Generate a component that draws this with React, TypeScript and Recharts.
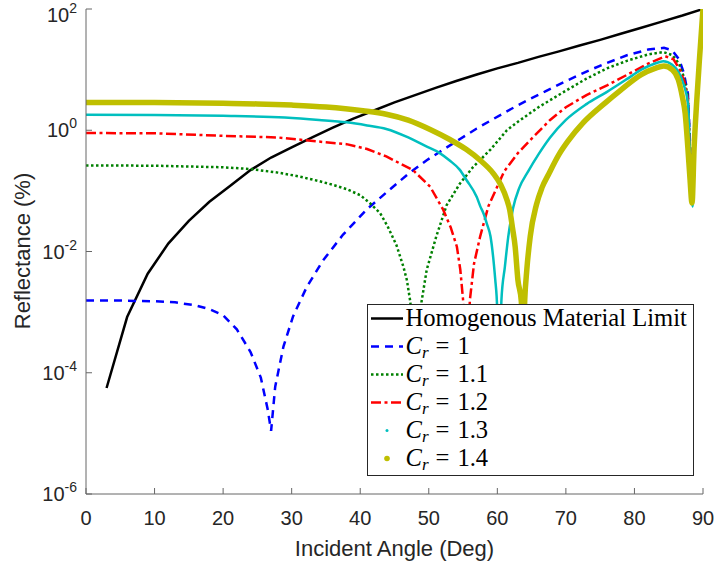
import { LineChart, Line, XAxis, YAxis, Legend } from "recharts";

// Homogenous material limit (reflectance in %)
const homogAngle = [3, 6, 9, 12, 15, 18, 21, 24, 27, 30, 33, 36, 39, 42, 45, 48, 51, 54, 57, 60, 63, 66, 69, 72, 75, 78, 81, 84, 87, 90];
const homogR = [0.000056, 0.00083, 0.0043, 0.0135, 0.032, 0.066, 0.12, 0.22, 0.355, 0.52, 0.76, 1.1, 1.56, 2.12, 2.88, 3.8, 5.0, 6.5, 8.3, 10.5, 12.9, 16.2, 20, 25, 31, 39, 49, 62, 78, 100];

// C_r = 1
const cr10Angle = [0, 5, 10, 13, 16, 18, 20, 22, 24, 25.5, 26.5, 27, 27.6, 28.8, 30.2, 32.2, 34.6, 37.5, 41, 44.3, 47, 49.7, 52, 54.5, 57, 59.5, 62, 64.5, 67, 70, 73, 76, 79, 82, 84.3, 85.5, 86.5, 87.2, 87.8, 88.1, 88.3, 88.5, 88.7, 89.1, 89.5, 90];
const cr10R = [0.00155, 0.00155, 0.00151, 0.00145, 0.00129, 0.00112, 0.00089, 0.00052, 0.00022, 0.000083, 0.000025, 0.000011, 0.000059, 0.00027, 0.00085, 0.0026, 0.0072, 0.019, 0.05, 0.105, 0.19, 0.32, 0.47, 0.71, 1.07, 1.55, 2.24, 3.16, 4.37, 6.46, 9.3, 12.9, 17.4, 21.4, 22.9, 20.9, 14.8, 8.9, 4.0, 0.63, 0.2, 0.07, 0.5, 3.2, 15.8, 100];

// C_r = 1.1
const cr11Angle = [0, 10, 20, 24, 28, 31, 34, 36, 38, 40, 41.4, 42.9, 44, 45.3, 46.3, 46.8, 47.3, 47.8, 48.2, 48.6, 48.95, 49.7, 51.1, 52.6, 54.5, 56.5, 59, 61.4, 63, 66, 70, 73, 76, 79, 82, 84.2, 85.5, 86.5, 87.2, 87.8, 88.1, 88.3, 88.5, 88.7, 89.1, 89.5, 90];
const cr11R = [0.263, 0.26, 0.245, 0.229, 0.2, 0.174, 0.145, 0.126, 0.107, 0.085, 0.063, 0.043, 0.026, 0.0126, 0.0056, 0.0034, 0.0015, 0.00032, 0.000063, 0.00032, 0.0015, 0.005, 0.0178, 0.058, 0.13, 0.25, 0.48, 1.0, 1.38, 2.4, 4.5, 7.1, 10.5, 14.1, 17.8, 19.5, 17.4, 12.6, 7.6, 3.5, 0.5, 0.16, 0.063, 0.5, 3.2, 15.8, 100];

// C_r = 1.2
const cr12Angle = [0, 10, 20, 28, 34, 38, 41, 43.8, 47.7, 50.2, 52.1, 53.2, 54.1, 54.6, 55, 55.3, 55.5, 55.7, 56, 56.6, 57.5, 58.7, 61, 63, 64.8, 67.7, 70, 73, 76, 79, 82, 84.5, 85.7, 86.6, 87.3, 87.8, 88.1, 88.3, 88.5, 88.7, 89.1, 89.5, 90];
const cr12R = [0.9, 0.89, 0.81, 0.76, 0.65, 0.59, 0.49, 0.37, 0.22, 0.117, 0.049, 0.025, 0.012, 0.005, 0.0016, 0.00032, 0.00005, 0.00032, 0.0016, 0.0063, 0.0178, 0.056, 0.21, 0.42, 0.69, 1.48, 2.4, 3.8, 5.5, 8.3, 12.6, 16.6, 14.8, 10, 6.3, 3.2, 0.5, 0.16, 0.063, 0.5, 3.2, 15.8, 100];

// C_r = 1.3
const cr13Angle = [0, 10, 20, 29, 34, 38, 41, 43.8, 47, 49.5, 51.6, 53, 54.5, 55.5, 57, 57.5, 58, 58.5, 59, 59.4, 59.7, 59.9, 60.1, 60.3, 60.5, 60.6, 61.1, 61.6, 62.3, 63.2, 64.5, 66, 67.7, 70, 73, 76, 79, 81, 83, 84.2, 85.5, 86.5, 87.2, 87.8, 88.1, 88.3, 88.5, 88.7, 89.1, 89.5, 90];
const cr13R = [1.8, 1.78, 1.73, 1.62, 1.48, 1.35, 1.2, 1.05, 0.76, 0.55, 0.42, 0.32, 0.224, 0.151, 0.079, 0.056, 0.042, 0.028, 0.0178, 0.0079, 0.0034, 0.0018, 0.0005, 0.0001, 0.00063, 0.0016, 0.0056, 0.0178, 0.052, 0.112, 0.21, 0.4, 0.76, 1.48, 2.7, 4.3, 7.1, 10, 12.6, 13.8, 12, 8.9, 5.6, 2.8, 0.4, 0.13, 0.055, 0.5, 3.2, 15.8, 100];

// C_r = 1.4
const cr14Angle = [0, 10, 20, 25, 30, 35, 40.4, 43.8, 47, 50.2, 53, 55.5, 57.5, 59.4, 60.5, 61.4, 61.8, 62.2, 62.6, 63, 63.5, 63.75, 64, 64.3, 64.8, 65.7, 66.5, 67.5, 69, 70.3, 72.5, 75.7, 78, 81, 83, 84.3, 85.5, 86.4, 87, 87.4, 87.8, 88.1, 88.4, 88.7, 89.1, 89.5, 90];
const cr14R = [2.88, 2.86, 2.78, 2.72, 2.6, 2.42, 2.1, 1.84, 1.47, 1.03, 0.71, 0.48, 0.32, 0.195, 0.126, 0.071, 0.049, 0.025, 0.012, 0.0034, 0.0015, 0.0002, 0.0016, 0.005, 0.0178, 0.059, 0.112, 0.19, 0.4, 0.66, 1.32, 2.8, 4.6, 8.3, 10.5, 11.5, 10, 6.8, 3.5, 1.9, 0.5, 0.16, 0.063, 0.5, 3.2, 15.8, 100];

const seriesNames = ["Homogenous Material Limit", "1", "1.1", "1.2", "1.3", "1.4"];
const seriesColors = ["#000000", "#0000ff", "#008000", "#ff0000", "#00bfbf", "#bfbf00"];

const xTicks = [0, 10, 20, 30, 40, 50, 60, 70, 80, 90];
const yTicks = [1e-6, 1e-4, 1e-2, 1, 100];

const toPoints = (angles: number[], values: number[]) =>
  angles.map((a, i) => ({ angle: a, r: values[i] }));

const series = [
  { data: toPoints(homogAngle, homogR), width: 2.5, dash: undefined as string | undefined, curve: "linear" },
  { data: toPoints(cr10Angle, cr10R), width: 2.5, dash: "8 6", curve: "linear" },
  { data: toPoints(cr11Angle, cr11R), width: 2.5, dash: "2.5 2.5", curve: "linear" },
  { data: toPoints(cr12Angle, cr12R), width: 2.5, dash: "10 3.5 3 3.5", curve: "linear" },
  { data: toPoints(cr13Angle, cr13R), width: 2.5, dash: undefined, curve: "monotone" },
  { data: toPoints(cr14Angle, cr14R), width: 5.5, dash: undefined, curve: "monotone" },
];

const AXIS = "#666666";
const TEXT = "#262626";
const SANS = "'Liberation Sans', Arial, sans-serif";

const XTick = (props: any) => {
  const { x, y, payload } = props;
  return (
    <text x={x} y={y} textAnchor="middle" fill={TEXT} fontFamily={SANS} fontSize={20}>
      {payload.value}
    </text>
  );
};

const YTick = (props: any) => {
  const { x, y, payload } = props;
  const exp = Math.round(Math.log10(payload.value));
  // the top label sits against the page edge, nudge it in a little
  const shift = exp === 2 ? 6 : 0;
  return (
    <text x={x} y={y + 7 + shift} textAnchor="end" fill={TEXT} fontFamily={SANS} fontSize={20}>
      10
      <tspan dy={-9} fontSize={14}>
        {exp}
      </tspan>
    </text>
  );
};

const NoTick = () => <g />;

const LegendSample = ({ i }: { i: number }) => {
  const c = seriesColors[i];
  return (
    <svg width={38} height={28} style={{ position: "absolute", left: 0, top: 0 }}>
      {i < 4 ? (
        <line x1={3} x2={35} y1={14.5} y2={14.5} stroke={c} strokeWidth={2.5} strokeDasharray={series[i].dash} />
      ) : (
        <circle cx={19} cy={14.5} r={i === 4 ? 1.5 : 2.8} fill={c} />
      )}
    </svg>
  );
};

const LegendBox = () => (
  <div
    style={{
      width: 327,
      height: 172,
      boxSizing: "border-box",
      border: "1px solid #262626",
      background: "#fff",
      fontFamily: "'Liberation Serif', 'Times New Roman', serif",
      fontSize: 24.6,
      color: "#000",
      overflow: "hidden",
    }}
  >
    <div style={{ marginTop: -1.5 }}>
      {seriesNames.map((name, i) => (
        <div key={i} style={{ position: "relative", height: 28.2, lineHeight: "28px", whiteSpace: "nowrap" }}>
          <LegendSample i={i} />
          <span style={{ paddingLeft: 37.5 }}>
            {i === 0 ? (
              name
            ) : (
              <>
                <i>C</i>
                <i style={{ fontSize: 17, position: "relative", top: 4 }}>r</i>
                <span style={{ margin: "0 8px 0 7px" }}>=</span>
                {name}
              </>
            )}
          </span>
        </div>
      ))}
    </div>
  </div>
);

export default function App() {
  return (
    <div style={{ position: "absolute", left: 0, top: 0, width: 715, height: 564, background: "#fff" }}>
      <LineChart width={715} height={564} margin={{ top: 9, right: 12, bottom: 0, left: 0 }}>
        <XAxis
          dataKey="angle"
          type="number"
          domain={[0, 90]}
          ticks={xTicks}
          interval={0}
          allowDataOverflow
          height={70}
          tickSize={-6}
          tickMargin={37}
          tick={<XTick />}
          axisLine={{ stroke: AXIS }}
          tickLine={{ stroke: AXIS }}
          label={{
            content: () => (
              <text x={394.5} y={556} textAnchor="middle" fill={TEXT} fontFamily={SANS} fontSize={22}>
                Incident Angle (Deg)
              </text>
            ),
          }}
        />
        <XAxis
          xAxisId="top"
          orientation="top"
          type="number"
          domain={[0, 90]}
          ticks={xTicks}
          interval={0}
          allowDataOverflow
          height={0}
          tickSize={-6}
          tick={<NoTick />}
          axisLine={{ stroke: AXIS }}
          tickLine={{ stroke: AXIS }}
        />
        <YAxis
          scale="log"
          type="number"
          domain={[1e-6, 100]}
          ticks={yTicks}
          interval={0}
          allowDataOverflow
          width={86}
          tickSize={-6}
          tickMargin={15}
          tick={<YTick />}
          axisLine={{ stroke: AXIS }}
          tickLine={{ stroke: AXIS }}
          label={{
            content: () => (
              <text
                x={30}
                y={251}
                transform="rotate(-90 30 251)"
                textAnchor="middle"
                fill={TEXT}
                fontFamily={SANS}
                fontSize={22}
              >
                Reflectance (%)
              </text>
            ),
          }}
        />
        <YAxis
          yAxisId="right"
          orientation="right"
          scale="log"
          type="number"
          domain={[1e-6, 100]}
          ticks={yTicks}
          interval={0}
          allowDataOverflow
          width={0}
          tickSize={-6}
          tick={<NoTick />}
          axisLine={{ stroke: AXIS }}
          tickLine={{ stroke: AXIS }}
        />
        {series.map((s, i) => (
          <Line
            key={i}
            data={s.data}
            dataKey="r"
            type={s.curve as any}
            stroke={seriesColors[i]}
            strokeWidth={s.width}
            strokeDasharray={s.dash}
            strokeLinecap={i >= 4 ? "round" : "butt"}
            dot={false}
            activeDot={false}
            isAnimationActive={false}
          />
        ))}
        <Legend
          layout="vertical"
          align="center"
          verticalAlign="middle"
          content={() => <LegendBox />}
          wrapperStyle={{ left: 367, top: 304, width: 327, height: 172 }}
        />
      </LineChart>
    </div>
  );
}
